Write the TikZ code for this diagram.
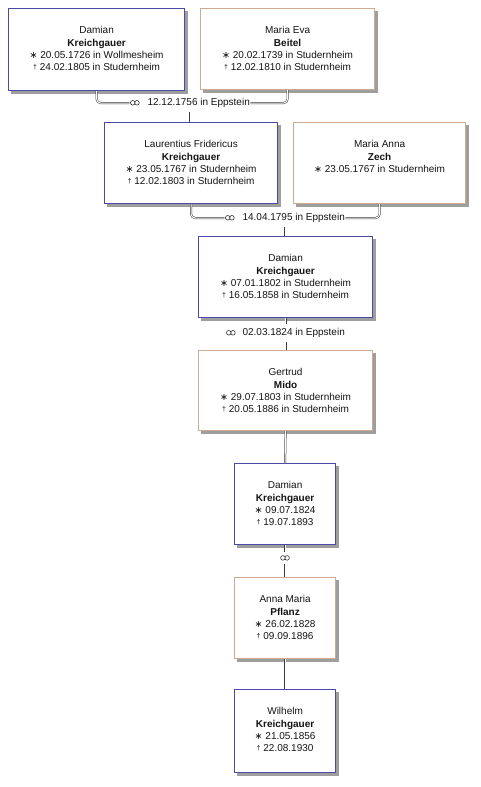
\documentclass[tikz,border=0pt]{standalone}
\usepackage{fontspec}
\setmainfont{Liberation Sans}
\newfontfamily\symfont{DejaVu Sans}
\usetikzlibrary{backgrounds}
\definecolor{malec}{RGB}{75,75,165}
\definecolor{femc}{RGB}{205,170,145}
\definecolor{linec}{RGB}{60,60,60}
\newcommand\stsym{\raisebox{-0.5pt}{{\symfont\fontsize{9.5}{9}\selectfont ∗}}}
\newcommand\dgsym{\raisebox{1pt}{\scriptsize †}}
\newcommand\marr{\tikz[baseline=0pt]{\draw[line width=0.6pt, draw=black!80] (2.4pt,2.8pt) circle (2.3pt) (6.6pt,2.8pt) circle (2.3pt);}}
\begin{document}
\begin{tikzpicture}[x=1pt,y=1pt,
  pbox/.style={line width=1.2pt, fill=white, anchor=north west, inner sep=0pt},
  mbox/.style={pbox, draw=malec},
  fbox/.style={pbox, draw=femc},
  shad/.style={fill=black!38},
  txt/.style={anchor=north, align=center, inner sep=0pt, text=black!92,
    font=\fontsize{10}{12.3}\selectfont},
  mlab/.style={inner xsep=0.5pt, inner ysep=4pt, text=black!92, font=\fontsize{10}{12}\selectfont},
  conn/.style={draw=linec, line width=0.5pt, double=white, double distance=1pt, rounded corners=4pt}]
\useasboundingbox (0,0) rectangle (480,-787);

% boxes
\node[mbox, minimum width=176pt, minimum height=82pt] (b1) at (8,-8) {};
\node[fbox, minimum width=174pt, minimum height=81pt] (b2) at (200,-8) {};
\node[mbox, minimum width=173pt, minimum height=81pt] (b3) at (104,-122) {};
\node[fbox, minimum width=172pt, minimum height=81pt] (b4) at (293,-122) {};
\node[mbox, minimum width=174pt, minimum height=81pt] (b5) at (198,-236) {};
\node[fbox, minimum width=174pt, minimum height=80pt] (b6) at (198,-350) {};
\node[mbox, minimum width=101pt, minimum height=81pt] (b7) at (234,-463) {};
\node[fbox, minimum width=101pt, minimum height=81pt] (b8) at (234,-577) {};
\node[mbox, minimum width=101pt, minimum height=83pt] (b9) at (234,-689) {};

% shadows and background
\begin{scope}[on background layer]
\fill[white] (0,0) rectangle (480,-787);
\foreach \b in {b1,b2,b3,b4,b5,b6,b7,b8,b9}
  \fill[shad] ([shift={(3pt,-3pt)}]\b.south west) rectangle ([shift={(3pt,-3pt)}]\b.north east);
\end{scope}

% texts
\node[txt] (t1) at ([yshift=-17.5pt]b1.north) {\rule{0pt}{8pt}Damian\\\textbf{Kreichgauer}\\\stsym\ 20.05.1726 in Wollmesheim\\\dgsym\ 24.02.1805 in Studernheim};
\node[txt] (t2) at ([yshift=-17.5pt]b2.north) {\rule{0pt}{8pt}Maria Eva\\\textbf{Beitel}\\\stsym\ 20.02.1739 in Studernheim\\\dgsym\ 12.02.1810 in Studernheim};
\node[txt] (t3) at ([yshift=-17.5pt]b3.north) {\rule{0pt}{8pt}Laurentius Fridericus\\\textbf{Kreichgauer}\\\stsym\ 23.05.1767 in Studernheim\\\dgsym\ 12.02.1803 in Studernheim};
\node[txt] (t4) at ([yshift=-17.5pt]b4.north) {\rule{0pt}{8pt}Maria Anna\\\textbf{Zech}\\\stsym\ 23.05.1767 in Studernheim};
\node[txt] (t5) at ([yshift=-17.5pt]b5.north) {\rule{0pt}{8pt}Damian\\\textbf{Kreichgauer}\\\stsym\ 07.01.1802 in Studernheim\\\dgsym\ 16.05.1858 in Studernheim};
\node[txt] (t6) at ([yshift=-17.5pt]b6.north) {\rule{0pt}{8pt}Gertrud\\\textbf{Mido}\\\stsym\ 29.07.1803 in Studernheim\\\dgsym\ 20.05.1886 in Studernheim};
\node[txt] (t7) at ([yshift=-17.5pt]b7.north) {\rule{0pt}{8pt}Damian\\\textbf{Kreichgauer}\\\stsym\ 09.07.1824\\\dgsym\ 19.07.1893};
\node[txt] (t8) at ([yshift=-17.5pt]b8.north) {\rule{0pt}{8pt}Anna Maria\\\textbf{Pflanz}\\\stsym\ 26.02.1828\\\dgsym\ 09.09.1896};
\node[txt] (t9) at ([yshift=-17.5pt]b9.north) {\rule{0pt}{8pt}Wilhelm\\\textbf{Kreichgauer}\\\stsym\ 21.05.1856\\\dgsym\ 22.08.1930};

% marriage labels
\node[mlab] (m1) at (190,-103) {\marr\hspace{8pt}12.12.1756 in Eppstein};
\node[mlab] (m2) at (285,-218) {\marr\hspace{8pt}14.04.1795 in Eppstein};
\node[mlab] (m3) at (285.5,-333) {\marr\hspace{7pt}02.03.1824 in Eppstein};
\node[mlab, inner ysep=3pt, inner xsep=0pt] (m4) at (285,-558) {\marr};

% connectors
\draw[conn] (b1.south) |- (m1.west);
\draw[conn] (m1.east) -| (b2.south);
\draw[conn] (m1.south) -- (m1.south |- b3.north);
\draw[conn] (b3.south) |- (m2.west);
\draw[conn] (m2.east) -| (b4.south);
\draw[conn] (m2.south) -- (m2.south |- b5.north);
\draw[conn] (b5.south) -- (b5.south |- m3.north);
\draw[conn] (b5.south |- m3.south) -- (b6.north);
\draw[conn] (b6.south) -- (b7.north);
\draw[conn] (b7.south) -- (b7.south |- m4.north);
\draw[conn] (b7.south |- m4.south) -- (b8.north);
\draw[conn] (b8.south) -- (b9.north);
\end{tikzpicture}
\end{document}
